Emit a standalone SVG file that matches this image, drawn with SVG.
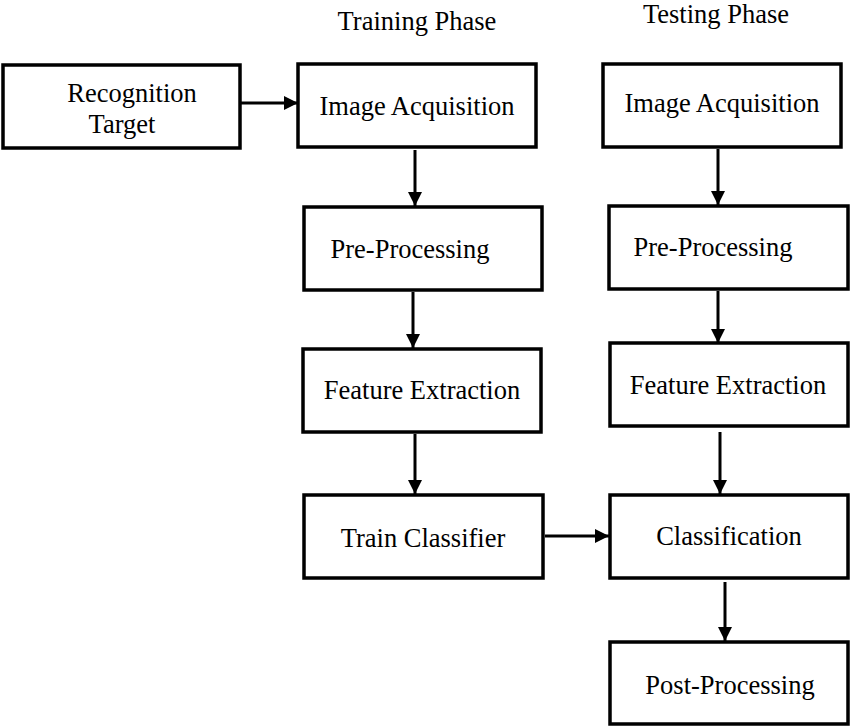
<svg xmlns="http://www.w3.org/2000/svg" width="850" height="726" viewBox="0 0 850 726">
<style>
.box{fill:#fff;stroke:#000;stroke-width:3.5}
.t{font-family:'Liberation Serif','Times New Roman','DejaVu Serif',serif;font-size:26.5px;fill:#000;text-anchor:middle}
.c{stroke:#000;stroke-width:3;fill:none}
</style>
<defs>
<marker id="ah" markerUnits="userSpaceOnUse" markerWidth="14" markerHeight="14" viewBox="0 0 14 14" refX="14" refY="7" orient="auto">
<path d="M0,0 L14,7 L0,14 Z" fill="#000"/>
</marker>
</defs>
<rect width="850" height="726" fill="#fff"/>
<text class="t" x="417" y="30">Training Phase</text>
<text class="t" x="716" y="23">Testing Phase</text>
<g id="recognition-target">
<rect class="box" x="3" y="65" width="237" height="83"/>
<text class="t" x="132" y="102">Recognition</text>
<text class="t" x="122" y="133">Target</text>
</g>
<g id="train-image-acquisition">
<rect class="box" x="298" y="64" width="238" height="83"/>
<text class="t" x="417" y="115">Image Acquisition</text>
</g>
<g id="train-pre-processing">
<rect class="box" x="304" y="207" width="238" height="83"/>
<text class="t" x="410" y="258">Pre-Processing</text>
</g>
<g id="train-feature-extraction">
<rect class="box" x="303" y="349" width="238" height="83"/>
<text class="t" x="422" y="399">Feature Extraction</text>
</g>
<g id="train-classifier">
<rect class="box" x="304" y="495" width="239" height="83"/>
<text class="t" x="423" y="547">Train Classifier</text>
</g>
<g id="test-image-acquisition">
<rect class="box" x="603" y="64" width="238" height="83"/>
<text class="t" x="722" y="112">Image Acquisition</text>
</g>
<g id="test-pre-processing">
<rect class="box" x="609" y="206" width="239" height="83"/>
<text class="t" x="713" y="256">Pre-Processing</text>
</g>
<g id="test-feature-extraction">
<rect class="box" x="610" y="343" width="238" height="83"/>
<text class="t" x="728" y="394">Feature Extraction</text>
</g>
<g id="test-classification">
<rect class="box" x="610" y="495" width="238" height="83"/>
<text class="t" x="729" y="545">Classification</text>
</g>
<g id="test-post-processing">
<rect class="box" x="610" y="642" width="238" height="82"/>
<text class="t" x="730" y="694">Post-Processing</text>
</g>
<g id="connectors">
<line class="c" x1="241" y1="103" x2="298" y2="103" marker-end="url(#ah)"/>
<line class="c" x1="415" y1="150" x2="415" y2="206" marker-end="url(#ah)"/>
<line class="c" x1="413" y1="292" x2="413" y2="348" marker-end="url(#ah)"/>
<line class="c" x1="415" y1="434" x2="415" y2="494" marker-end="url(#ah)"/>
<line class="c" x1="545" y1="536" x2="609" y2="536" marker-end="url(#ah)"/>
<line class="c" x1="718" y1="149" x2="718" y2="205" marker-end="url(#ah)"/>
<line class="c" x1="718" y1="291" x2="718" y2="343" marker-end="url(#ah)"/>
<line class="c" x1="720" y1="432" x2="720" y2="494" marker-end="url(#ah)"/>
<line class="c" x1="725" y1="582" x2="725" y2="641" marker-end="url(#ah)"/>
</g>
</svg>
